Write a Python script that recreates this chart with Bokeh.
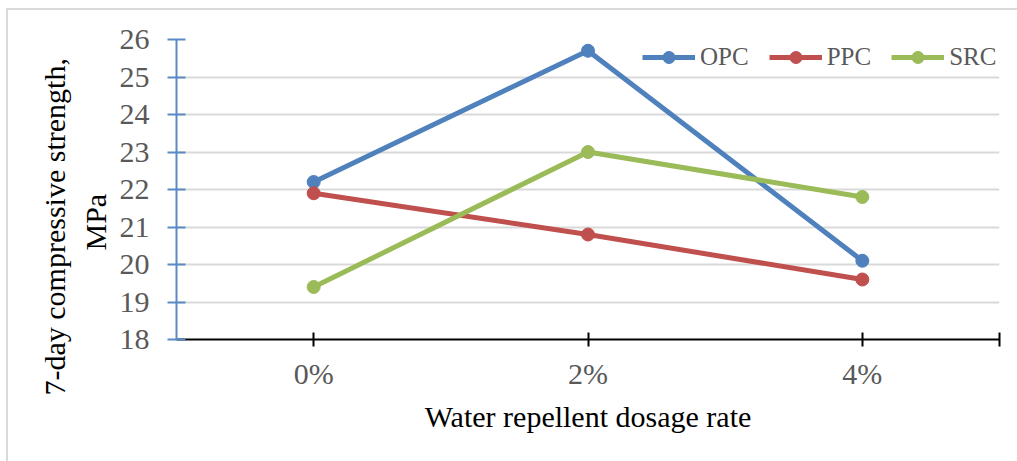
from bokeh.plotting import figure
from bokeh.models import (Range1d, FixedTicker, Legend, LegendItem, Title)
from bokeh.embed import file_html
from bokeh.resources import INLINE

categories = ["0%", "2%", "4%"]
opc = [22.2, 25.7, 20.1]
ppc = [21.9, 20.8, 19.6]
src = [19.4, 23.0, 21.8]
series_names = ["OPC", "PPC", "SRC"]
y_ticks = [18, 19, 20, 21, 22, 23, 24, 25, 26]
y_title_lines = ["7-day compressive strength,", "MPa"]
x_title = "Water repellent dosage rate"

colors = ["#4f81bd", "#c0504d", "#9bbb59"]
FONT = "Liberation Serif"

xs = [i + 0.5 for i in range(len(categories))]

p = figure(width=1017, height=461, output_backend="svg", toolbar_location=None,
           x_range=Range1d(0, len(categories)), y_range=Range1d(y_ticks[0], y_ticks[-1]),
           min_border_left=176, min_border_right=18, min_border_top=39, min_border_bottom=122)
p.outline_line_color = None
p.background_fill_color = "white"
p.border_fill_color = None
p.styles = {
    "background": ("linear-gradient(#d9d9d9,#d9d9d9) 6px 8px / 2px 100% no-repeat, "
                   "linear-gradient(#d9d9d9,#d9d9d9) 6px 8px / 100% 2px no-repeat, white"),
}

items = []
for name, vals, c in zip(series_names, [opc, ppc, src], colors):
    r1 = p.line(xs, vals, line_color=c, line_width=5)
    r2 = p.scatter(xs, vals, size=13, fill_color=c, line_color=c)
    items.append(LegendItem(label=name, renderers=[r1, r2]))

# x axis
xa = p.xaxis[0]
xa.ticker = FixedTicker(ticks=xs + [float(len(categories))])
ov = {x: c for x, c in zip(xs, categories)}
ov[float(len(categories))] = ""
xa.major_label_overrides = ov
xa.axis_line_color = "black"
xa.axis_line_width = 2
xa.major_tick_line_color = "black"
xa.major_tick_line_width = 2
xa.major_tick_in = 7
xa.major_tick_out = 7
xa.minor_tick_line_color = None
xa.major_label_text_font = FONT
xa.major_label_text_font_size = "30px"
xa.major_label_text_color = "#595959"
xa.major_label_standoff = 10
xa.axis_label = x_title
xa.axis_label_text_font = FONT
xa.axis_label_text_font_size = "30px"
xa.axis_label_text_font_style = "normal"
xa.axis_label_text_color = "black"
xa.axis_label_standoff = 7

# y axis
ya = p.yaxis[0]
ya.ticker = FixedTicker(ticks=y_ticks)
ya.axis_line_color = "#5a8ac6"
ya.axis_line_width = 2
ya.major_tick_line_color = "#5a8ac6"
ya.major_tick_line_width = 2
ya.major_tick_in = 9
ya.major_tick_out = 9
ya.minor_tick_line_color = None
ya.major_label_text_font = FONT
ya.major_label_text_font_size = "30px"
ya.major_label_text_color = "#595959"
ya.major_label_standoff = 18

p.xgrid.grid_line_color = None
p.ygrid.ticker = FixedTicker(ticks=y_ticks)
p.ygrid.grid_line_color = "#d9d9d9"
p.ygrid.grid_line_width = 2

# y title: two lines, second centred under the first
t2 = Title(text=y_title_lines[1], align="left", offset=89,
           text_font=FONT, text_font_size="30px", text_font_style="normal",
           text_color="black", standoff=9)
p.add_layout(t2, "left")
t1 = Title(text=y_title_lines[0], align="left", offset=-56,
           text_font=FONT, text_font_size="30px", text_font_style="normal",
           text_color="black", standoff=3)
p.add_layout(t1, "left")

legend = Legend(items=items, orientation="horizontal", location=(466, 267),
                glyph_width=53, glyph_height=30, label_standoff=5, spacing=20,
                padding=0, margin=0, border_line_color=None, background_fill_alpha=0,
                label_text_font=FONT, label_text_font_size="25px", label_text_color="#595959")
p.add_layout(legend, "center")

open("out.html", "w").write(file_html(p, INLINE))
